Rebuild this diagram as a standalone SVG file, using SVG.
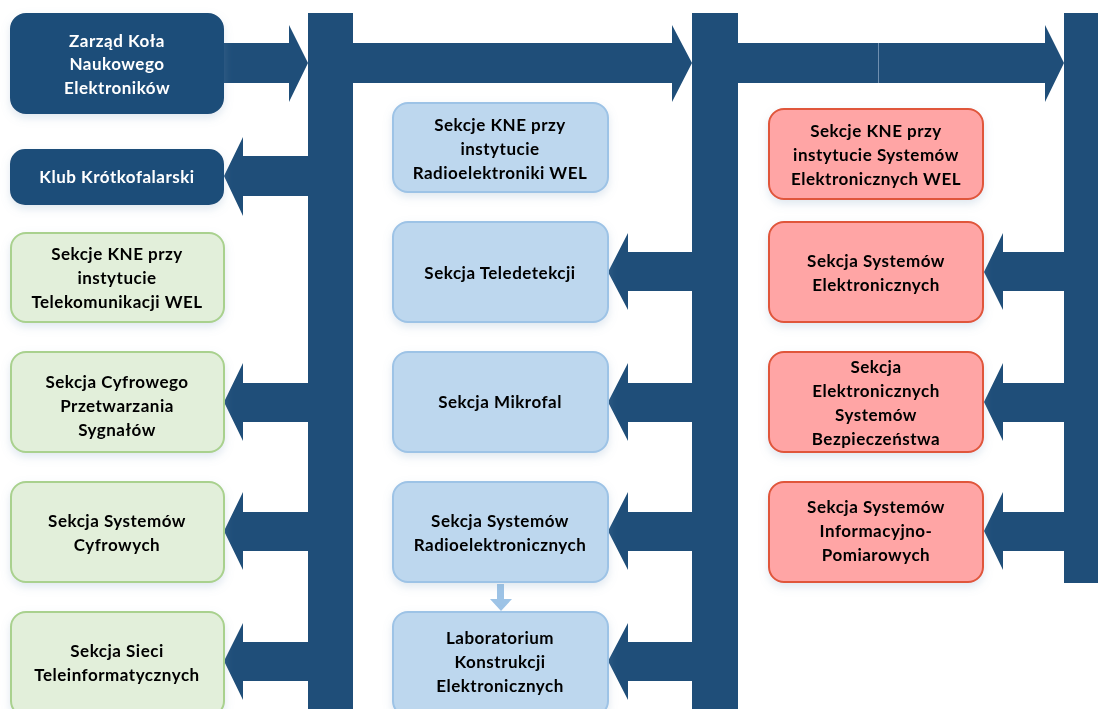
<svg xmlns="http://www.w3.org/2000/svg" width="1098" height="709" viewBox="0 0 1098 709">
<style>
.dark{fill:#1F4E79}
.box{stroke-width:2}
.d{fill:#1F4E79;stroke:#1F4E79}
.g{fill:#E2EFDA;stroke:#A9D18E}
.b{fill:#BDD7EE;stroke:#9DC3E6}
.r{fill:#FFA5A5;stroke:#E0563B}
text{font-family:Lato,"Open Sans","Liberation Sans",sans-serif;font-weight:bold;font-size:17px;letter-spacing:0.5px;text-anchor:middle;fill:#000}
.w{fill:#FFFFFF}
</style>
<defs>
<filter id="sh" x="-10%" y="-10%" width="125%" height="135%">
<feDropShadow dx="0" dy="4" stdDeviation="4" flood-color="#7FA0C0" flood-opacity="0.25"/>
</filter>
</defs>
<rect width="1098" height="709" fill="#FFFFFF"/>
<g id="connectors">
<rect class="dark" x="308" y="13" width="45" height="700"/>
<rect class="dark" x="692" y="13" width="46" height="700"/>
<rect class="dark" x="1064" y="13" width="46" height="570"/>
<polygon class="dark" points="222,43 289,43 289,25 308,63 289,102 289,83 222,83"/>
<polygon class="dark" points="353,43 672,43 672,25 692,63 672,102 672,83 353,83"/>
<polygon class="dark" points="738,43 1045,43 1045,25 1064,63 1045,102 1045,83 738,83"/>
<line x1="878.5" y1="43" x2="878.5" y2="83" stroke="#6F8FB0" stroke-width="1"/>
<polygon class="dark" points="308,156 243,156 243,137 224,176 243,216 243,196 308,196"/>
<polygon class="dark" points="308,383 243,383 243,363 224,402 243,441 243,422 308,422"/>
<polygon class="dark" points="308,512 243,512 243,492 224,531 243,570 243,551 308,551"/>
<polygon class="dark" points="308,642 243,642 243,623 224,661 243,700 243,681 308,681"/>
<polygon class="dark" points="692,252 628,252 628,233 608,272 628,310 628,291 692,291"/>
<polygon class="dark" points="692,383 628,383 628,363 608,402 628,441 628,422 692,422"/>
<polygon class="dark" points="692,512 628,512 628,492 608,531 628,570 628,551 692,551"/>
<polygon class="dark" points="692,642 628,642 628,623 608,661 628,700 628,681 692,681"/>
<polygon class="dark" points="1064,252 1003,252 1003,233 984,272 1003,310 1003,291 1064,291"/>
<polygon class="dark" points="1064,383 1003,383 1003,363 984,402 1003,441 1003,422 1064,422"/>
<polygon class="dark" points="1064,512 1003,512 1003,492 984,531 1003,570 1003,551 1064,551"/>
<polygon fill="#9DC3E6" points="497,584 504,584 504,599 512,599 501,611 490,599 497,599"/>
</g>
<g id="n-zarzad" filter="url(#sh)"><rect class="box d" x="11" y="14" width="212" height="99" rx="15"/>
<text class="w"><tspan x="117" y="47">Zarząd Koła</tspan><tspan x="117" y="70">Naukowego</tspan><tspan x="117" y="94">Elektroników</tspan></text></g>
<g id="n-klub" filter="url(#sh)"><rect class="box d" x="11" y="150" width="212" height="54" rx="14"/>
<text class="w" x="117" y="183">Klub Krótkofalarski</text></g>
<g id="n-telekom" filter="url(#sh)"><rect class="box g" x="11" y="233" width="213" height="89" rx="15"/>
<text><tspan x="117" y="260">Sekcje KNE przy</tspan><tspan x="117" y="284">instytucie</tspan><tspan x="117" y="308">Telekomunikacji WEL</tspan></text></g>
<g id="n-cps" filter="url(#sh)"><rect class="box g" x="11" y="352" width="213" height="100" rx="15"/>
<text><tspan x="117" y="388">Sekcja Cyfrowego</tspan><tspan x="117" y="412">Przetwarzania</tspan><tspan x="117" y="436">Sygnałów</tspan></text></g>
<g id="n-syscyf" filter="url(#sh)"><rect class="box g" x="11" y="482" width="213" height="100" rx="15"/>
<text><tspan x="117" y="527">Sekcja Systemów</tspan><tspan x="117" y="551">Cyfrowych</tspan></text></g>
<g id="n-sieci" filter="url(#sh)"><rect class="box g" x="11" y="612" width="213" height="104" rx="15"/>
<text><tspan x="117" y="657">Sekcja Sieci</tspan><tspan x="117" y="681">Teleinformatycznych</tspan></text></g>
<g id="n-radio" filter="url(#sh)"><rect class="box b" x="393" y="103" width="215" height="89" rx="15"/>
<text><tspan x="500" y="131">Sekcje KNE przy</tspan><tspan x="500" y="155">instytucie</tspan><tspan x="500" y="179">Radioelektroniki WEL</tspan></text></g>
<g id="n-teledet" filter="url(#sh)"><rect class="box b" x="393" y="222" width="215" height="100" rx="15"/>
<text x="500" y="279">Sekcja Teledetekcji</text></g>
<g id="n-mikrofal" filter="url(#sh)"><rect class="box b" x="393" y="352" width="215" height="100" rx="15"/>
<text x="500" y="408">Sekcja Mikrofal</text></g>
<g id="n-sysradio" filter="url(#sh)"><rect class="box b" x="393" y="482" width="215" height="100" rx="15"/>
<text><tspan x="500" y="527">Sekcja Systemów</tspan><tspan x="500" y="551">Radioelektronicznych</tspan></text></g>
<g id="n-lab" filter="url(#sh)"><rect class="box b" x="393" y="612" width="215" height="104" rx="15"/>
<text><tspan x="500" y="644">Laboratorium</tspan><tspan x="500" y="668">Konstrukcji</tspan><tspan x="500" y="692">Elektronicznych</tspan></text></g>
<g id="n-sysel-kne" filter="url(#sh)"><rect class="box r" x="769" y="109" width="214" height="90" rx="15"/>
<text><tspan x="876" y="137">Sekcje KNE przy</tspan><tspan x="876" y="161">instytucie Systemów</tspan><tspan x="876" y="185">Elektronicznych WEL</tspan></text></g>
<g id="n-sysel" filter="url(#sh)"><rect class="box r" x="769" y="222" width="214" height="100" rx="15"/>
<text><tspan x="876" y="267">Sekcja Systemów</tspan><tspan x="876" y="291">Elektronicznych</tspan></text></g>
<g id="n-bezp" filter="url(#sh)"><rect class="box r" x="769" y="352" width="214" height="100" rx="15"/>
<text><tspan x="876" y="373">Sekcja</tspan><tspan x="876" y="397">Elektronicznych</tspan><tspan x="876" y="421">Systemów</tspan><tspan x="876" y="445">Bezpieczeństwa</tspan></text></g>
<g id="n-infpom" filter="url(#sh)"><rect class="box r" x="769" y="482" width="214" height="100" rx="15"/>
<text><tspan x="876" y="513">Sekcja Systemów</tspan><tspan x="876" y="537">Informacyjno-</tspan><tspan x="876" y="561">Pomiarowych</tspan></text></g>
</svg>
